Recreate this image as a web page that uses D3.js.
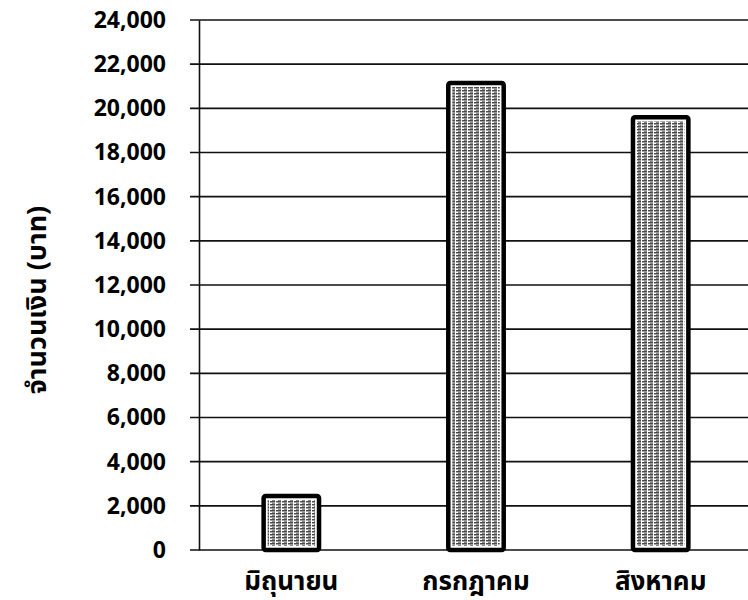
<!doctype html>
<html lang='th'>
<head>
<meta charset='UTF-8'>
<title>Chart</title>
<style>
  body { margin: 0; background: #fff; }
  text { font-family: 'Open Sans', 'Noto Sans Thai', 'Noto Sans', sans-serif; font-weight: bold; fill: #000; }
</style>
</head>
<body>
<script src='https://d3js.org/d3.v7.min.js'></script>
<script>
  const months = ['มิถุนายน', 'กรกฎาคม', 'สิงหาคม']
  const amounts = [2450, 21150, 19600]
  const yTicks = [0, 2000, 4000, 6000, 8000, 10000, 12000, 14000, 16000, 18000, 20000, 22000, 24000]
  const yTitle = 'จำนวนเงิน (บาท)'

  const W = 748, H = 600
  const plot = {left: 199, right: 753, top: 20, bottom: 550}

  const svg = d3.select('body').append('svg')
    .attr('width', W)
    .attr('height', H)

  // bar fill pattern
  const defs = svg.append('defs')
  const pat = defs.append('pattern')
    .attr('id', 'dots')
    .attr('patternUnits', 'userSpaceOnUse')
    .attr('width', 6)
    .attr('height', 3)
  pat.append('rect').attr('width', 6).attr('height', 3).attr('fill', '#fff')
  pat.append('rect').attr('x', 0).attr('y', 0).attr('width', 5).attr('height', 1.5).attr('fill', '#4a4a4a')
  pat.append('rect').attr('x', 2).attr('y', 1.5).attr('width', 3).attr('height', 1.5).attr('fill', '#8a8a8a')

  const x = d3.scaleBand()
    .domain(months)
    .range([plot.left, plot.right])
    .paddingInner(0.7)
    .paddingOuter(0.35)

  const y = d3.scaleLinear()
    .domain([0, 24000])
    .range([plot.bottom, plot.top])

  // gridlines
  svg.append('g')
    .selectAll('line')
    .data(yTicks)
    .enter()
    .append('line')
    .attr('x1', plot.left - 9)
    .attr('x2', W)
    .attr('y1', d => y(d))
    .attr('y2', d => y(d))
    .attr('stroke', '#111')
    .attr('stroke-width', 1.6)

  // y axis
  svg.append('g')
    .attr('transform', `translate(${plot.left},0)`)
    .call(d3.axisLeft(y)
      .tickValues(yTicks)
      .tickFormat(d3.format(','))
      .tickSize(0)
      .tickPadding(33))
    .call(g => g.select('.domain').attr('stroke', '#111').attr('stroke-width', 1.6))
    .call(g => g.selectAll('text').style('font-size', '23px').attr('fill', '#000'))

  // bars
  const bars = svg.append('g')
  bars.selectAll('rect.outer')
    .data(amounts)
    .enter()
    .append('rect')
    .attr('class', 'outer')
    .attr('x', (d, i) => x(months[i]))
    .attr('y', d => y(d))
    .attr('width', x.bandwidth())
    .attr('height', d => y(0) - y(d))
    .attr('fill', '#fff')
    .attr('stroke', '#000')
    .attr('stroke-width', 4.5)
    .attr('rx', 2)

  bars.selectAll('rect.inner')
    .data(amounts)
    .enter()
    .append('rect')
    .attr('class', 'inner')
    .attr('x', (d, i) => x(months[i]) + 4)
    .attr('y', d => y(d) + 4)
    .attr('width', x.bandwidth() - 8)
    .attr('height', d => y(0) - y(d) - 8)
    .attr('fill', 'url(#dots)')

  // x labels
  svg.append('g')
    .selectAll('text')
    .data(months)
    .enter()
    .append('text')
    .attr('x', d => x(d) + x.bandwidth() / 2)
    .attr('y', 590)
    .attr('text-anchor', 'middle')
    .style('font-size', '26px')
    .text(d => d)

  // y title
  svg.append('text')
    .attr('transform', 'translate(46,300) rotate(-90)')
    .attr('text-anchor', 'middle')
    .style('font-size', '27px')
    .text(yTitle)
</script>
</body>
</html>
